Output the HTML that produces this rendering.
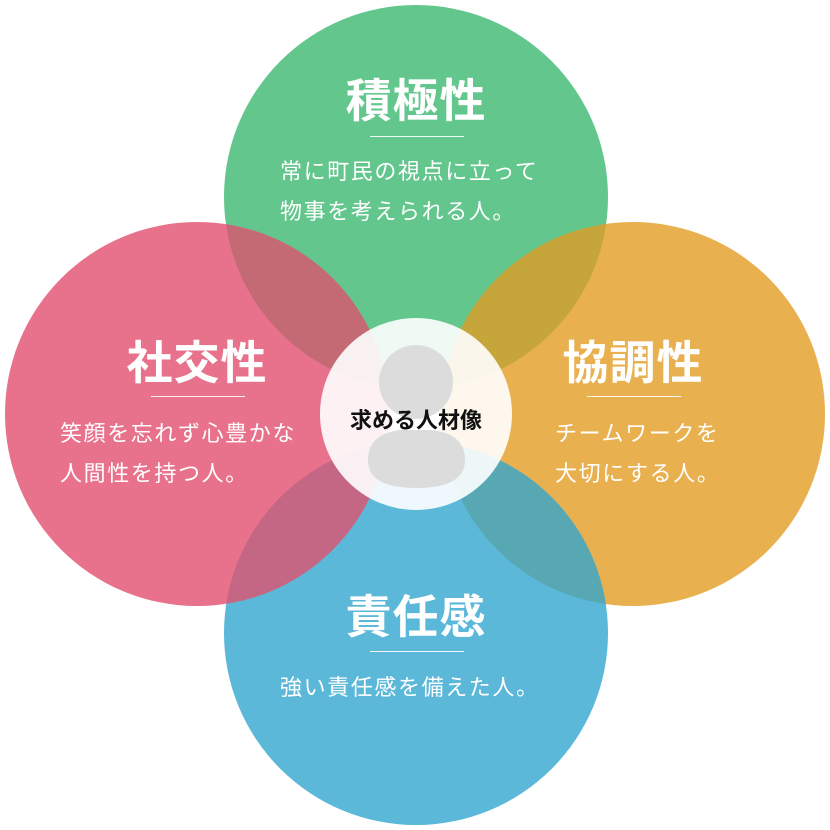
<!DOCTYPE html>
<html><head><meta charset="utf-8"><style>
html,body{margin:0;padding:0;background:#fff;}
body{width:830px;height:830px;position:relative;overflow:hidden;font-family:"Liberation Sans","Noto Sans CJK JP",sans-serif;}
svg{position:absolute;left:0;top:0;}
.t{position:absolute;color:#fff;font-weight:bold;font-size:46px;text-align:center;width:300px;line-height:50px;letter-spacing:1px;}
.l{position:absolute;height:1px;background:#fff;width:94px;opacity:.9;}
.b{position:absolute;color:#fff;font-size:22px;line-height:40px;letter-spacing:1.6px;white-space:nowrap;}
.c{position:absolute;left:296px;top:406px;width:240px;text-align:center;font-weight:bold;font-size:22px;color:#111;line-height:30px;}
</style></head><body>
<svg width="830" height="830" viewBox="0 0 830 830">
<defs>
<clipPath id="cg"><circle cx="416" cy="197" r="192"/></clipPath>
<clipPath id="cb"><circle cx="416" cy="633" r="192"/></clipPath>
</defs>
<circle cx="416" cy="197" r="192" fill="#63c68c"/>
<circle cx="633" cy="414" r="192" fill="#e8b04f"/>
<circle cx="416" cy="633" r="192" fill="#5bb8d9"/>
<circle cx="197" cy="414" r="192" fill="#e8728c"/>
<g clip-path="url(#cg)">
<circle cx="197" cy="414" r="192" fill="#c46a75"/>
<circle cx="633" cy="414" r="192" fill="#c6a63a"/>
</g>
<g clip-path="url(#cb)">
<circle cx="197" cy="414" r="192" fill="#c46784"/>
<circle cx="633" cy="414" r="192" fill="#58a8b4"/>
</g>
<circle cx="416" cy="414" r="96" fill="#fff" opacity="0.9"/>
<circle cx="416" cy="382" r="37" fill="#dcdcdc"/>
<path d="M368 460 Q368 434 400 430 L432 430 Q465 434 465 460 Q465 488 416 488 Q368 488 368 460 Z" fill="#dcdcdc"/>
</svg>
<div class="t" style="left:266px;top:76px">積極性</div>
<div class="l" style="left:370px;top:136px"></div>
<div class="b" style="left:280px;top:152px">常に町民の視点に立って<br>物事を考えられる人。</div>

<div class="t" style="left:47px;top:338px">社交性</div>
<div class="l" style="left:151px;top:396px"></div>
<div class="b" style="left:60px;top:414px">笑顔を忘れず心豊かな<br>人間性を持つ人。</div>

<div class="t" style="left:483px;top:338px">協調性</div>
<div class="l" style="left:587px;top:396px"></div>
<div class="b" style="left:555px;top:414px">チームワークを<br>大切にする人。</div>

<div class="t" style="left:266px;top:592px">責任感</div>
<div class="l" style="left:370px;top:651px"></div>
<div class="b" style="left:280px;top:668px">強い責任感を備えた人。</div>

<div class="c">求める人材像</div>
</body></html>
